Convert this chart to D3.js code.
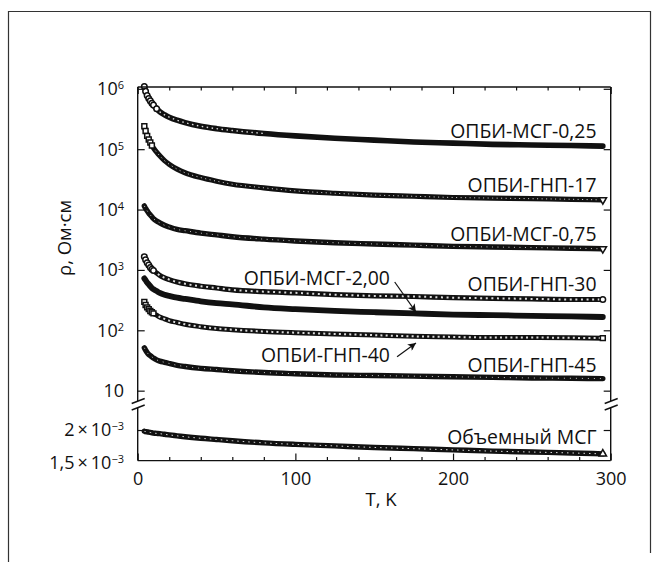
<!doctype html>
<html>
  <head>
    <meta charset="utf-8">
    <style>
      body { margin: 0; background: #fff; }
      text { font-family: "Open Sans", "Noto Sans", sans-serif; fill: #111; }
    </style>
  </head>
  <body>
    <svg width="658" height="562" id="chart"></svg>

    <script src="https://cdnjs.cloudflare.com/ajax/libs/d3/7.8.5/d3.min.js"></script>
    <script>
      // temperatures, K
      const temps = [4.2, 5, 6, 7, 8, 9, 10, 12, 14, 17, 20, 25, 30, 40, 50, 60, 80, 100, 125, 150, 175, 200, 225, 250, 275, 295]

      // lg(rho), rho in Ом·см
      const lgMsg025 = [6.04, 5.96, 5.89, 5.84, 5.80, 5.76, 5.73, 5.67, 5.62, 5.57, 5.53, 5.48, 5.44, 5.38, 5.34, 5.31, 5.26, 5.22, 5.18, 5.15, 5.12, 5.10, 5.08, 5.07, 5.06, 5.05]
      const lgGnp17 = [5.38, 5.30, 5.22, 5.16, 5.11, 5.06, 5.02, 4.95, 4.89, 4.81, 4.75, 4.67, 4.61, 4.53, 4.47, 4.42, 4.36, 4.31, 4.27, 4.24, 4.22, 4.20, 4.19, 4.18, 4.17, 4.16]
      const lgMsg075 = [4.06, 4.02, 3.98, 3.94, 3.91, 3.88, 3.85, 3.81, 3.78, 3.74, 3.71, 3.67, 3.65, 3.61, 3.58, 3.55, 3.51, 3.48, 3.45, 3.43, 3.41, 3.39, 3.38, 3.37, 3.36, 3.35]
      const lgGnp30 = [3.22, 3.17, 3.12, 3.08, 3.04, 3.01, 2.99, 2.95, 2.91, 2.87, 2.84, 2.80, 2.77, 2.73, 2.70, 2.67, 2.64, 2.62, 2.59, 2.57, 2.56, 2.54, 2.53, 2.52, 2.51, 2.51]
      const lgMsg200 = [2.86, 2.83, 2.79, 2.76, 2.73, 2.70, 2.68, 2.65, 2.62, 2.59, 2.57, 2.54, 2.52, 2.48, 2.45, 2.43, 2.38, 2.35, 2.32, 2.30, 2.28, 2.26, 2.25, 2.24, 2.23, 2.22]
      const lgGnp40 = [2.47, 2.42, 2.38, 2.35, 2.32, 2.30, 2.28, 2.25, 2.22, 2.19, 2.16, 2.13, 2.10, 2.06, 2.03, 2.01, 1.98, 1.96, 1.94, 1.92, 1.90, 1.89, 1.88, 1.88, 1.875, 1.87]
      const lgGnp45 = [1.71, 1.67, 1.63, 1.60, 1.58, 1.56, 1.54, 1.51, 1.49, 1.47, 1.45, 1.42, 1.40, 1.37, 1.35, 1.33, 1.30, 1.28, 1.26, 1.25, 1.24, 1.23, 1.22, 1.21, 1.205, 1.20]
      // bulk MSG, rho in 10^-3 Ом·см
      const bulkMsg = [1.98, 1.975, 1.97, 1.965, 1.96, 1.955, 1.95, 1.945, 1.94, 1.93, 1.92, 1.905, 1.89, 1.865, 1.845, 1.825, 1.79, 1.765, 1.74, 1.715, 1.695, 1.675, 1.655, 1.64, 1.625, 1.61]

      const xTicksMajor = [0, 100, 200, 300]
      const xTicksMinor = [20, 40, 60, 80, 120, 140, 160, 180, 220, 240, 260, 280]
      const yDecades = [1, 2, 3, 4, 5, 6]

      // label name, lg(rho) of the label centre
      const rightLabels = [
        ['ОПБИ-МСГ-0,25', 5.30],
        ['ОПБИ-ГНП-17', 4.41],
        ['ОПБИ-МСГ-0,75', 3.60],
        ['ОПБИ-ГНП-30', 2.77],
        ['ОПБИ-ГНП-45', 1.43]
      ]
      // label, label end T, label lg, arrow start T, lg, arrow tip T, lg
      const arrowLabels = [
        ['ОПБИ-МСГ-2,00', 160, 2.86, 163, 2.80, 176.5, 2.30],
        ['ОПБИ-ГНП-40', 160, 1.59, 164.5, 1.56, 176.5, 1.79]
      ]

      const svg = d3.select('#chart')
      const pLeft = 137.7, pRight = 610.7, pTop = 87, pBottom = 460.6
      const breakTop = 401, breakBot = 407.5

      const x = d3.scaleLinear([0, 300], [pLeft, pRight])
      const yTop = d3.scaleLog([Math.pow(10, 0.9), Math.pow(10, 6.03)], [396.7, pTop])
      const yBot = d3.scaleLinear([1.5e-3, 2.36e-3], [pBottom, 408])

      // outer frame
      svg.append('path')
        .attr('d', `M8.5,562 V11.5 H650.5 V553`)
        .attr('fill', 'none').attr('stroke', '#333').attr('stroke-width', 1.2)

      const toPts = lg => temps.map((t, i) => ({ t, v: Math.pow(10, lg[i]) }))
      // hollowTo: hollow markers drawn up to this T; bead: white centre dashes [width, dash, gap, up to T]
      const series = [
        { pts: toPts(lgMsg025), y: yTop, sym: d3.symbolCircle, rot: 0, hollowTo: 12, bead: [1.4, 1.5, 3.5, 80], w: 5.6, end: false },
        { pts: toPts(lgGnp17), y: yTop, sym: d3.symbolSquare, rot: 180, hollowTo: 9, bead: [1, 1, 3.5, 300], w: 5.2, end: true, endSym: d3.symbolTriangle },
        { pts: toPts(lgMsg075), y: yTop, sym: d3.symbolTriangle, rot: 180, hollowTo: 0, bead: [0.9, 1, 4.5, 300], w: 5.4, end: true },
        { pts: toPts(lgGnp30), y: yTop, sym: d3.symbolCircle, rot: 0, hollowTo: 10, bead: [2, 2, 3.6, 300], w: 5.2, end: true },
        { pts: toPts(lgMsg200), y: yTop, sym: d3.symbolDiamond, rot: 0, hollowTo: 0, bead: null, w: 5.8, end: false },
        { pts: toPts(lgGnp40), y: yTop, sym: d3.symbolSquare, rot: 0, hollowTo: 10, bead: [2, 2, 3.2, 300], w: 5, end: true },
        { pts: toPts(lgGnp45), y: yTop, sym: d3.symbolTriangle, rot: 0, hollowTo: 0, bead: [0.9, 1, 5, 300], w: 5.4, end: false },
        { pts: temps.map((t, i) => ({ t, v: bulkMsg[i] * 1e-3 })), y: yBot, sym: d3.symbolTriangle, rot: 0, hollowTo: 0, bead: [1, 1.5, 4, 300], w: 5.4, end: true }
      ]

      const plot = svg.append('g')
      series.forEach(s => {
        const line = d3.line().x(d => x(d.t)).y(d => s.y(d.v)).curve(d3.curveMonotoneX)
        plot.append('path')
          .attr('d', line(s.pts))
          .attr('fill', 'none').attr('stroke', '#111')
          .attr('stroke-width', s.w).attr('stroke-linecap', 'round')
        if (s.bead) {
          const [bw, dash, gap, tMax] = s.bead
          plot.append('path')
            .attr('d', line(s.pts.filter(d => d.t <= tMax)))
            .attr('fill', 'none').attr('stroke', '#fff')
            .attr('stroke-width', bw).attr('stroke-dasharray', `${dash} ${gap}`)
            .attr('opacity', 0.85)
        }
        const last = s.pts.length - 1
        const marks = s.pts.filter((d, i) => d.t <= s.hollowTo || (s.end && i === last))
        const isEnd = d => s.end && d === s.pts[last]
        plot.selectAll(null).data(marks).enter().append('path')
          .attr('d', d => d3.symbol().type(isEnd(d) && s.endSym ? s.endSym : s.sym).size(24)())
          .attr('transform', d => `translate(${x(d.t)},${s.y(d.v)}) rotate(${isEnd(d) ? s.rot : 0})`)
          .attr('fill', '#fff').attr('stroke', '#111').attr('stroke-width', 1.5)
      })

      // axes frame lines
      const axes = svg.append('g').attr('stroke', '#111').attr('stroke-width', 1.4).attr('fill', 'none')
      axes.append('line').attr('x1', pLeft).attr('x2', pRight).attr('y1', pTop).attr('y2', pTop)
      axes.append('line').attr('x1', pLeft).attr('x2', pRight).attr('y1', pBottom).attr('y2', pBottom)
      ;[pLeft, pRight].forEach(ax => {
        axes.append('line').attr('x1', ax).attr('x2', ax).attr('y1', pTop).attr('y2', breakTop)
        axes.append('line').attr('x1', ax).attr('x2', ax).attr('y1', breakBot).attr('y2', pBottom)
        axes.append('line').attr('x1', ax - 6).attr('x2', ax + 7).attr('y1', breakTop + 2.5).attr('y2', breakTop - 2.5)
        axes.append('line').attr('x1', ax - 6).attr('x2', ax + 7).attr('y1', breakBot + 2.5).attr('y2', breakBot - 2.5)
      })

      // ticks via d3 axes
      const tickAxis = (gen, tx, ty) => {
        const g = svg.append('g').attr('transform', `translate(${tx},${ty})`).call(gen)
        g.select('.domain').remove()
        g.selectAll('line').attr('stroke', '#111').attr('stroke-width', 1.2)
        return g
      }
      tickAxis(d3.axisBottom(x).tickValues(xTicksMinor).tickSize(-3.5).tickFormat(''), 0, pBottom)
      tickAxis(d3.axisTop(x).tickValues(xTicksMinor).tickSize(-3.5).tickFormat(''), 0, pTop)
      tickAxis(d3.axisTop(x).tickValues(xTicksMajor).tickSize(-7).tickFormat(''), 0, pTop)
      const xg = tickAxis(d3.axisBottom(x).tickValues(xTicksMajor).tickSize(-7).tickPadding(11.5), 0, pBottom)
      xg.selectAll('text').attr('font-size', 18).attr('font-family', '"Open Sans", sans-serif').attr('fill', '#111')

      const decVals = yDecades.map(d => Math.pow(10, d))
      tickAxis(d3.axisLeft(yTop).tickValues(decVals).tickSize(-7).tickFormat(''), pLeft, 0)
      tickAxis(d3.axisRight(yTop).tickValues(decVals).tickSize(-7).tickFormat(''), pRight, 0)
      tickAxis(d3.axisLeft(yBot).tickValues([2e-3]).tickSize(-7).tickFormat(''), pLeft, 0)
      tickAxis(d3.axisRight(yBot).tickValues([2e-3]).tickSize(-7).tickFormat(''), pRight, 0)

      // y tick labels with superscripts
      const fs = 18
      const labelX = 124
      const powLabel = (y, base, exp) => {
        const t = svg.append('text').attr('x', labelX).attr('y', y + fs * 0.357)
          .attr('text-anchor', 'end').attr('font-size', fs)
        t.append('tspan').text(base)
        if (exp !== null) {
          t.append('tspan').attr('font-size', 11).attr('dy', -6).text(exp)
        }
      }
      yDecades.forEach(d => {
        if (d === 1) powLabel(yTop(10), '10', null)
        else powLabel(yTop(Math.pow(10, d)), '10', String(d))
      })
      powLabel(yBot(2e-3), '2\u2009×\u200910', '\u22123')
      powLabel(yBot(1.5e-3) + 1.5, '1,5\u2009×\u200910', '\u22123')

      // axis titles
      svg.append('text').attr('x', 381).attr('y', 499 + 18.5 * 0.357)
        .attr('text-anchor', 'middle').attr('font-size', 18.5).text('T, K')
      svg.append('text').attr('transform', 'translate(71,238) rotate(-90)')
        .attr('text-anchor', 'middle').attr('font-size', 18.5).text('ρ, Ом·см')

      // series labels
      const lfs = 19.4
      rightLabels.forEach(([name, lg]) => {
        svg.append('text').attr('x', x(291)).attr('y', yTop(Math.pow(10, lg)) + lfs * 0.357)
          .attr('text-anchor', 'end').attr('font-size', lfs).text(name)
      })
      svg.append('text').attr('x', x(291)).attr('y', yBot(1.89e-3) + lfs * 0.357)
        .attr('text-anchor', 'end').attr('font-size', lfs).text('Объемный МСГ')

      svg.append('defs').append('marker')
        .attr('id', 'arrow').attr('viewBox', '0 0 10 10')
        .attr('refX', 10).attr('refY', 5)
        .attr('markerWidth', 10).attr('markerHeight', 8)
        .attr('markerUnits', 'userSpaceOnUse').attr('orient', 'auto')
        .append('path').attr('d', 'M0,0 L10,5 L0,10 L2.5,5 Z').attr('fill', '#111')

      arrowLabels.forEach(([name, tEnd, lg, t0, lg0, t1, lg1]) => {
        svg.append('text').attr('x', x(tEnd)).attr('y', yTop(Math.pow(10, lg)) + lfs * 0.357)
          .attr('text-anchor', 'end').attr('font-size', lfs).text(name)
        svg.append('line')
          .attr('x1', x(t0)).attr('y1', yTop(Math.pow(10, lg0)))
          .attr('x2', x(t1)).attr('y2', yTop(Math.pow(10, lg1)))
          .attr('stroke', '#111').attr('stroke-width', 1.2)
          .attr('marker-end', 'url(#arrow)')
      })
    </script>
  </body>
</html>
